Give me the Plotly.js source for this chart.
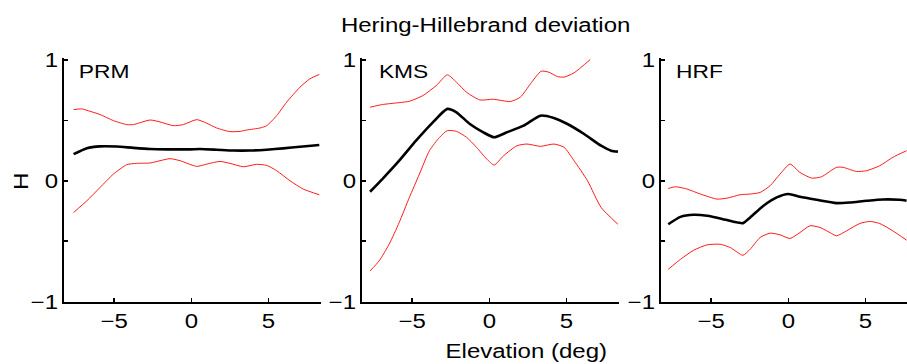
<!DOCTYPE html>
<html>
<head>
<meta charset="utf-8">
<script src="https://cdn.plot.ly/plotly-3.0.1.min.js"></script>
<style>
  html, body { margin: 0; padding: 0; background: #fff; overflow: hidden; }
  #chart { width: 920px; height: 364px; }
</style>
</head>
<body>
<div id="chart"></div>
<script>
// Subject labels
const subjects = ['PRM', 'KMS', 'HRF'];

// PRM: mean H and confidence bounds vs elevation
const prmMeanX = [-7.63, -6.77, -5.91, -4.83, -3.75, -2.67, -1.59, -0.08, 0.56, 1.64, 2.72, 3.80, 4.88, 5.95, 7.04, 8.29];
const prmMeanY = [0.22, 0.27, 0.285, 0.283, 0.272, 0.263, 0.26, 0.26, 0.263, 0.257, 0.25, 0.25, 0.257, 0.268, 0.282, 0.296];
const prmUpperX = [-7.63, -7.10, -6.56, -5.91, -5.05, -4.18, -3.75, -3.32, -2.67, -2.03, -1.16, -0.52, 0.35, 1.00, 1.64, 2.50, 3.15, 3.59, 4.45, 4.88, 5.53, 6.17, 7.04, 7.68, 8.29];
const prmUpperY = [0.589, 0.595, 0.575, 0.548, 0.498, 0.465, 0.465, 0.481, 0.503, 0.487, 0.456, 0.465, 0.506, 0.476, 0.437, 0.407, 0.409, 0.42, 0.437, 0.456, 0.539, 0.65, 0.775, 0.844, 0.88];
const prmLowerX = [-7.63, -6.77, -5.91, -5.05, -4.18, -3.54, -2.67, -2.03, -1.38, -0.73, 0.35, 1.00, 1.86, 2.50, 3.37, 4.23, 4.88, 5.53, 6.39, 7.25, 8.29];
const prmLowerY = [-0.263, -0.166, -0.055, 0.055, 0.133, 0.144, 0.147, 0.166, 0.183, 0.166, 0.119, 0.138, 0.16, 0.144, 0.116, 0.136, 0.127, 0.083, 0, -0.069, -0.116];

// KMS
const kmsMeanX = [-7.73, -6.93, -5.84, -4.75, -3.66, -2.72, -2.13, -1.26, -0.39, 0.31, 1.14, 2.22, 3.31, 4.18, 5.06, 6.14, 7.24, 7.89, 8.33];
const kmsMeanY = [-0.091, 0.014, 0.166, 0.332, 0.484, 0.595, 0.567, 0.47, 0.401, 0.36, 0.401, 0.456, 0.539, 0.52, 0.47, 0.387, 0.29, 0.249, 0.241];
const kmsUpperX = [-7.73, -6.93, -5.84, -5.18, -4.31, -3.44, -2.72, -2.13, -1.48, -0.61, 0.26, 1.35, 2.01, 2.66, 3.36, 3.86, 4.40, 4.84, 5.49, 6.54];
const kmsUpperY = [0.609, 0.631, 0.647, 0.658, 0.705, 0.788, 0.877, 0.816, 0.733, 0.669, 0.675, 0.656, 0.692, 0.802, 0.907, 0.899, 0.863, 0.858, 0.894, 1.004];
const kmsLowerX = [-7.73, -7.14, -6.49, -5.84, -5.18, -4.53, -3.88, -3.22, -2.72, -2.13, -1.48, -0.83, -0.17, 0.31, 0.92, 1.79, 2.44, 3.31, 4.18, 4.84, 5.49, 6.36, 7.24, 8.33];
const kmsLowerY = [-0.747, -0.664, -0.525, -0.346, -0.138, 0.055, 0.249, 0.36, 0.415, 0.409, 0.36, 0.277, 0.18, 0.13, 0.207, 0.29, 0.304, 0.285, 0.304, 0.277, 0.166, 0, -0.221, -0.36];

// HRF
const hrfMeanX = [-7.78, -6.99, -6.13, -5.26, -4.41, -3.55, -2.94, -2.47, -1.61, -0.75, 0, 0.75, 1.83, 3.12, 3.98, 5.06, 6.13, 7.21, 7.66];
const hrfMeanY = [-0.36, -0.299, -0.282, -0.29, -0.312, -0.34, -0.351, -0.304, -0.207, -0.138, -0.11, -0.133, -0.158, -0.185, -0.18, -0.166, -0.155, -0.158, -0.166];
const hrfUpperX = [-7.78, -7.31, -6.56, -5.70, -4.62, -3.97, -3.12, -2.47, -1.83, -1.18, -0.54, 0.11, 0.75, 1.51, 2.15, 3.12, 3.55, 4.41, 5.06, 5.92, 6.77, 7.66];
const hrfUpperY = [-0.064, -0.05, -0.069, -0.11, -0.152, -0.144, -0.116, -0.11, -0.097, -0.041, 0.055, 0.138, 0.069, 0.022, 0.033, 0.111, 0.111, 0.077, 0.083, 0.124, 0.194, 0.249];
const hrfLowerX = [-7.78, -6.99, -6.13, -5.26, -4.41, -3.76, -2.94, -2.47, -1.83, -1.18, -0.54, 0.11, 0.75, 1.40, 2.05, 2.69, 3.12, 3.77, 4.63, 5.27, 5.92, 6.77, 7.66];
const hrfLowerY = [-0.733, -0.651, -0.575, -0.531, -0.526, -0.553, -0.617, -0.567, -0.47, -0.434, -0.448, -0.478, -0.429, -0.373, -0.387, -0.429, -0.456, -0.415, -0.354, -0.337, -0.354, -0.415, -0.492];

// Tick labels
const xTickVals = [-5, 0, 5];
const xTickText = ['\u22125', '0', '5'];
const yTickVals = [-1, -0.5, 0, 0.5, 1];
const yTickText = ['\u22121', '', '0', '', '1'];

const FONT = 'Liberation Sans, Arial, Helvetica, sans-serif';
const W = 920, H = 364;

const panels = [
  { mx: prmMeanX, my: prmMeanY, ux: prmUpperX, uy: prmUpperY, lx: prmLowerX, ly: prmLowerY },
  { mx: kmsMeanX, my: kmsMeanY, ux: kmsUpperX, uy: kmsUpperY, lx: kmsLowerX, ly: kmsLowerY },
  { mx: hrfMeanX, my: hrfMeanY, ux: hrfUpperX, uy: hrfUpperY, lx: hrfLowerX, ly: hrfLowerY }
];

const traces = [];
panels.forEach((p, i) => {
  const xa = i === 0 ? 'x' : 'x' + (i + 1);
  const ya = i === 0 ? 'y' : 'y' + (i + 1);
  const red = { color: '#ff1a1a', width: 1, shape: 'spline', smoothing: 0.6 };
  traces.push({ x: p.ux, y: p.uy, xaxis: xa, yaxis: ya, mode: 'lines', line: red, hoverinfo: 'skip' });
  traces.push({ x: p.lx, y: p.ly, xaxis: xa, yaxis: ya, mode: 'lines', line: red, hoverinfo: 'skip' });
  traces.push({ x: p.mx, y: p.my, xaxis: xa, yaxis: ya, mode: 'lines',
                line: { color: '#000', width: 2.6, shape: 'spline', smoothing: 0.6 }, hoverinfo: 'skip' });
});

// Plot-area placement in pixels
const panelLeft = [64, 362, 661];
const panelWidth = 257;
const plotTop = 58.3, plotBottom = 301.5;

function xAxis(i) {
  return {
    domain: [panelLeft[i] / W, (panelLeft[i] + panelWidth) / W],
    anchor: i === 0 ? 'y' : 'y' + (i + 1),
    range: [-8.25, 8.4],
    showline: true, linecolor: '#000', linewidth: 2,
    ticks: 'inside', ticklen: 4, tickwidth: 1.5, tickcolor: '#000',
    tickmode: 'array', tickvals: xTickVals, ticktext: xTickText,
    tickfont: { family: FONT, size: 20, color: '#000' },
    showgrid: false, zeroline: false, fixedrange: true
  };
}
function yAxis(i) {
  return {
    domain: [(H - plotBottom) / H, (H - plotTop) / H],
    anchor: i === 0 ? 'x' : 'x' + (i + 1),
    range: [-1, 1.014],
    showline: true, linecolor: '#000', linewidth: 2,
    ticks: 'inside', ticklen: 4, tickwidth: 1.5, tickcolor: '#000',
    tickmode: 'array', tickvals: yTickVals, ticktext: yTickText,
    tickfont: { family: FONT, size: 20, color: '#000' },
    showgrid: false, zeroline: false, fixedrange: true
  };
}

const labelCenters = [104, 403, 699.5];
const annotations = subjects.map((s, i) => ({
  text: s, xref: 'paper', yref: 'paper',
  x: labelCenters[i] / W, y: 1 - 71.7 / H,
  xanchor: 'center', yanchor: 'middle', showarrow: false,
  font: { family: FONT, size: 19, color: '#000' }
}));
annotations.push({
  text: 'Hering-Hillebrand deviation', xref: 'paper', yref: 'paper',
  x: 485.5 / W, y: 1 - 25 / H, xanchor: 'center', yanchor: 'middle', showarrow: false,
  font: { family: FONT, size: 20, color: '#000' }
});
annotations.push({
  text: 'Elevation (deg)', xref: 'paper', yref: 'paper',
  x: 526.7 / W, y: 1 - 351 / H, xanchor: 'center', yanchor: 'middle', showarrow: false,
  font: { family: FONT, size: 20, color: '#000' }
});
annotations.push({
  text: 'H', xref: 'paper', yref: 'paper', textangle: -90,
  x: 20.5 / W, y: 1 - 182 / H, xanchor: 'center', yanchor: 'middle', showarrow: false,
  font: { family: FONT, size: 20, color: '#000' }
});

const layout = {
  width: W, height: H,
  margin: { l: 0, r: 0, t: 0, b: 0 },
  paper_bgcolor: '#fff', plot_bgcolor: '#fff',
  showlegend: false,
  xaxis: xAxis(0), xaxis2: xAxis(1), xaxis3: xAxis(2),
  yaxis: yAxis(0), yaxis2: yAxis(1), yaxis3: yAxis(2),
  annotations: annotations
};

// Widen the glyphs a little, as in the original figure's lettering
const TEXT_STRETCH = 1.2;
function widenText(gd) {
  gd.querySelectorAll('.xaxislayer-above text, .yaxislayer-above text, .annotation-text').forEach(t => {
    const len = t.getComputedTextLength();
    if (len > 0) {
      t.setAttribute('textLength', (len * TEXT_STRETCH).toFixed(2));
      t.setAttribute('lengthAdjust', 'spacingAndGlyphs');
    }
  });
}

Plotly.newPlot('chart', traces, layout, { displayModeBar: false, staticPlot: true })
  .then(gd => widenText(gd));
</script>
</body>
</html>
